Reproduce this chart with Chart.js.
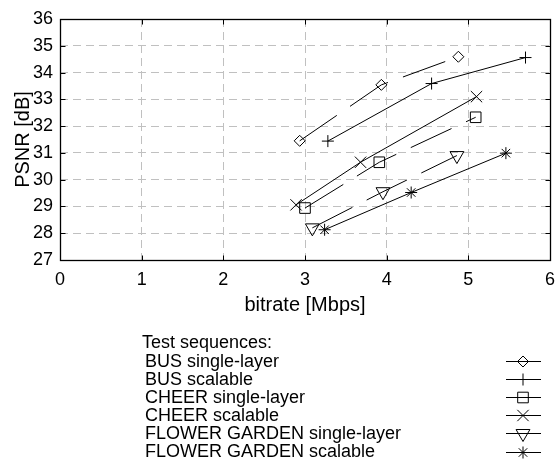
<!DOCTYPE html>
<html>
<head>
<meta charset="utf-8">
<script src="https://cdn.jsdelivr.net/npm/chart.js"></script>
<style>
  html, body { margin: 0; padding: 0; background: #fff; }
</style>
</head>
<body>
<canvas id="psnrChart" width="559" height="461"></canvas>
<script>
// values: bitrate [Mbps] and PSNR [dB], three points per sequence
const seriesNames = ['BUS single-layer', 'BUS scalable', 'CHEER single-layer',
                     'CHEER scalable', 'FLOWER GARDEN single-layer', 'FLOWER GARDEN scalable'];
const busSingleRate = [2.935, 3.935, 4.878];
const busSinglePsnr = [31.45, 33.54, 34.59];
const busScalRate = [3.28, 4.55, 5.70];
const busScalPsnr = [31.44, 33.59, 34.56];
const cheerSingleRate = [3.00, 3.91, 5.09];
const cheerSinglePsnr = [28.94, 30.65, 32.33];
const cheerScalRate = [2.89, 3.68, 5.10];
const cheerScalPsnr = [29.06, 30.65, 33.10];
const flowerSingleRate = [3.09, 3.955, 4.86];
const flowerSinglePsnr = [28.2, 29.55, 30.9];
const flowerScalRate = [3.24, 4.30, 5.46];
const flowerScalPsnr = [28.13, 29.52, 30.99];

const xTicks = [0, 1, 2, 3, 4, 5, 6];
const yTicks = [27, 28, 29, 30, 31, 32, 33, 34, 35, 36];
const legendTitle = 'Test sequences:';

const FONT = '"Liberation Sans", Arial, Helvetica, sans-serif';
Chart.defaults.font.family = FONT;
Chart.defaults.color = '#000';

function pts(xs, ys) {
  return xs.map((x, i) => ({ x: x, y: ys[i] }));
}

function series(label, xs, ys, style, radius, dashed, rotation) {
  return {
    label: label,
    data: pts(xs, ys),
    borderColor: '#000',
    borderWidth: 1,
    borderDash: dashed ? [45, 16] : [],
    fill: false,
    tension: 0,
    pointStyle: style,
    pointRadius: radius,
    pointRotation: rotation || 0,
    pointBorderColor: '#000',
    pointBackgroundColor: 'rgba(0,0,0,0)',
    pointBorderWidth: 1
  };
}

const datasets = [
  series(seriesNames[0], busSingleRate, busSinglePsnr, 'rectRot', 5.5, true),
  series(seriesNames[1], busScalRate, busScalPsnr, 'cross', 6, false),
  series(seriesNames[2], cheerSingleRate, cheerSinglePsnr, 'rect', 7.5, true),
  series(seriesNames[3], cheerScalRate, cheerScalPsnr, 'crossRot', 8, false),
  series(seriesNames[4], flowerSingleRate, flowerSinglePsnr, 'triangle', 8, true, 180),
  series(seriesNames[5], flowerScalRate, flowerScalPsnr, 'star', 6, false)
];

// box round the plot, small inward ticks on all four sides, and the legend underneath
const frameAndLegend = {
  id: 'frameAndLegend',
  afterDraw(chart) {
    const ctx = chart.ctx;
    const a = chart.chartArea;
    const xs = chart.scales.x, ys = chart.scales.y;
    const L = Math.round(a.left) + 0.5, R = Math.round(a.right) + 0.5;
    const T = Math.round(a.top) + 0.5, B = Math.round(a.bottom) + 0.5;
    const tl = 5;
    ctx.save();
    ctx.setLineDash([]);
    ctx.strokeStyle = '#000';
    ctx.lineWidth = 1;
    ctx.beginPath();
    xs.ticks.forEach(t => {
      const px = Math.round(xs.getPixelForValue(t.value)) + 0.5;
      ctx.moveTo(px, B); ctx.lineTo(px, B - tl);
      ctx.moveTo(px, T); ctx.lineTo(px, T + tl);
    });
    ys.ticks.forEach(t => {
      const py = Math.round(ys.getPixelForValue(t.value)) + 0.5;
      ctx.moveTo(L, py); ctx.lineTo(L + tl, py);
      ctx.moveTo(R, py); ctx.lineTo(R - tl, py);
    });
    ctx.stroke();
    ctx.lineWidth = 1.3;
    ctx.strokeRect(L, T, R - L, B - T);

    // legend
    ctx.font = '18px ' + FONT;
    ctx.textBaseline = 'alphabetic';
    ctx.textAlign = 'left';
    ctx.fillStyle = '#000';
    ctx.fillText(legendTitle, 142, 348);
    chart.data.datasets.forEach((ds, i) => {
      const y = 366.5 + i * 18.1;
      ctx.fillStyle = '#000';
      ctx.fillText(ds.label, 145, y);
      const my = Math.round(y - 5.5) + 0.5;
      ctx.lineWidth = 1;
      ctx.strokeStyle = '#000';
      ctx.beginPath();
      ctx.moveTo(506, my); ctx.lineTo(541, my);
      ctx.stroke();
      ctx.fillStyle = 'rgba(0,0,0,0)';
      Chart.helpers.drawPoint(ctx, {
        pointStyle: ds.pointStyle,
        radius: ds.pointRadius,
        rotation: ds.pointRotation,
        borderWidth: 1
      }, 523, my);
    });
    ctx.restore();
  }
};

new Chart(document.getElementById('psnrChart'), {
  type: 'line',
  data: { datasets: datasets },
  options: {
    responsive: false,
    animation: false,
    layout: { padding: { left: 0, right: 6.5, top: 19, bottom: 141 } },
    plugins: { legend: { display: false }, tooltip: { enabled: false } },
    scales: {
      x: {
        type: 'linear',
        min: 0, max: 6,
        afterBuildTicks: s => { s.ticks = xTicks.map(v => ({ value: v })); },
        afterFit: s => { s.height = 60; },
        ticks: { font: { size: 18 }, padding: 0, color: '#000' },
        grid: { color: '#c0c0c0', lineWidth: 1, drawTicks: true, tickLength: 9, tickColor: 'rgba(0,0,0,0)' },
        border: { display: false, dash: [8, 5] },
        title: { display: true, text: 'bitrate [Mbps]', font: { size: 20 }, padding: { top: 0, bottom: 2.5 } }
      },
      y: {
        type: 'linear',
        min: 27, max: 36,
        afterBuildTicks: s => { s.ticks = yTicks.map(v => ({ value: v })); },
        afterFit: s => { s.width = 60; },
        ticks: { font: { size: 18 }, padding: 7, color: '#000' },
        grid: { color: '#c0c0c0', lineWidth: 1, drawTicks: false },
        border: { display: false, dash: [8, 5] },
        title: { display: true, text: 'PSNR [dB]', font: { size: 20 }, padding: { top: 11, bottom: 0 } }
      }
    }
  },
  plugins: [frameAndLegend]
});
</script>
</body>
</html>
